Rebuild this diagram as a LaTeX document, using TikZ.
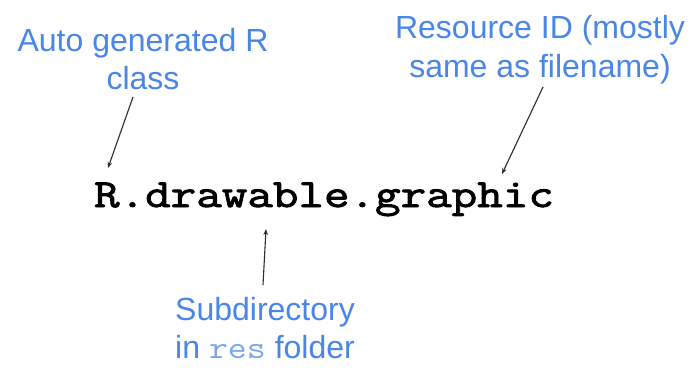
\documentclass[tikz,border=0pt]{standalone}
\usepackage{fontspec}
\setmainfont{Liberation Sans}
\newfontfamily\codefont{Latin Modern Mono}[FakeBold=2.2,FakeStretch=1.24]
\newfontfamily\resfont{Latin Modern Mono}[FakeStretch=1.15]
\usetikzlibrary{arrows.meta}
\definecolor{noteblue}{HTML}{4A86E8}
\definecolor{resblue}{HTML}{7BA6EE}
\definecolor{arrowgrey}{HTML}{2B2B2B}
\tikzset{
  note/.style={text=noteblue, font=\fontsize{32}{38}\selectfont, align=center,
    inner sep=0pt, anchor=base},
  code/.style={text=black, font=\codefont\fontsize{40}{40}\selectfont,
    inner sep=0pt, anchor=base},
  pointer/.style={draw=arrowgrey, line width=1.1pt,
    -{Stealth[length=6pt,width=4.5pt]}},
}
\begin{document}
\begin{tikzpicture}[x=1pt,y=-1pt]
  \useasboundingbox (0,0) rectangle (692,369);
  \fill[white] (0,0) rectangle (692,369);

  % the resource reference
  \node[code] (ref) at (324,207) {R.drawable.graphic};

  % callouts (placed by the baseline of their last line)
  \node[note] (cls) at (143,89) {Auto generated R\\class};
  \node[note] (rid) at (540,77) {Resource ID (mostly\\same as filename)};
  \node[note] (sub) at (265,358) {Subdirectory\\in {\resfont\color{resblue}res} folder};

  % ends of the pointers
  \coordinate (clsTail) at (133,97);
  \coordinate (clsTip)  at (108,168);
  \coordinate (ridTail) at (543,87);
  \coordinate (ridTip)  at (502,174);
  \coordinate (subTail) at (263,285);
  \coordinate (subTip)  at (266,229);

  \draw[pointer] (clsTail) -- (clsTip);
  \draw[pointer] (ridTail) -- (ridTip);
  \draw[pointer] (subTail) -- (subTip);
\end{tikzpicture}
\end{document}
